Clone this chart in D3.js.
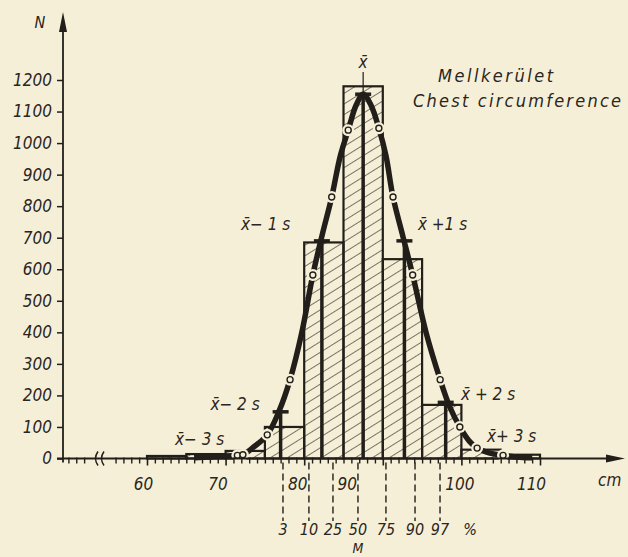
<!DOCTYPE html>
<html>
<head>
<meta charset="utf-8">
<script src="https://cdn.jsdelivr.net/npm/d3@7"></script>
<style>
  body { margin: 0; background: #f6efd8; }
  svg text { font-family: "DejaVu Sans Condensed", "DejaVu Sans", sans-serif; font-style: italic; fill: #2a2520; }
</style>
</head>
<body>
<svg id="chart" width="628" height="557"></svg>
<script>
// histogram classes (cm) and counts
const binStart = [60, 65, 70, 75, 80, 85, 90, 95, 100, 105];
const binEnd   = [65, 70, 75, 80, 85, 90, 95, 100, 105, 110];
const counts   = [8, 14, 24, 100, 685, 1180, 632, 170, 28, 12];

// fitted normal curve
const curveCm = [66, 68, 70, 71.5, 72.2, 73.5, 75.3, 76.8, 78.2, 79.7, 81.1, 82.3, 83.5, 84.6, 85.6, 86.6, 87.5,
                 88.5, 89.5, 90.4, 91.3, 92.5, 93.8, 95.5, 97.3, 98.5, 99.8, 101, 102, 103.5, 105.3, 107, 109];
const curveN  = [2, 5, 8, 10, 12, 35, 75, 150, 250, 400, 582, 710, 829, 960, 1041, 1120, 1155,
                 1120, 1047, 960, 829, 710, 582, 400, 250, 165, 100, 55, 33, 18, 10, 5, 2];

// small open circles on the curve
const ringCm = [71.5, 72.2, 75.3, 78.2, 81.1, 83.5, 85.6, 89.5, 91.3, 93.8, 97.3, 99.8, 102, 105.3];
const ringN  = [10, 12, 75, 250, 582, 829, 1041, 1047, 829, 582, 250, 100, 33, 10];

// mean and +-1s, +-2s markers
const sigmaCm = [77.0, 82.25, 87.5, 92.75, 98.0];
const sigmaN  = [148, 690, 1155, 690, 178];

// percentiles
const pctLabels = ["3", "10", "25", "50", "75", "90", "97"];
const pctCm     = [77.3, 80.6, 83.66, 86.84, 90.4, 94.1, 97.28];

const yTicks = [0, 100, 200, 300, 400, 500, 600, 700, 800, 900, 1000, 1100, 1200];
const xTicks = [60, 70, 80, 90, 100, 110];
const xMinor = [50, 51, 52, 56, 57, 58, 59, 61, 62, 63, 64, 65, 66, 67, 68, 69, 71, 72, 73, 74, 75, 76, 77, 78, 79,
                81, 82, 83, 84, 85, 86, 87, 88, 89, 91, 92, 93, 94, 95, 96, 97, 98, 99,
                101, 102, 103, 104, 105, 106, 107, 108, 109];

const ink = "#221e1a";
const bg = "#f6efd8";
const svg = d3.select("#chart");

const x = d3.scaleLinear().domain([60, 110]).range([147, 540]);
const y = d3.scaleLinear().domain([0, 1200]).range([458.5, 80]);
const x0 = 63, base = y(0);

svg.append("rect").attr("width", 628).attr("height", 557).attr("fill", bg);

// hatching
const pat = svg.append("defs").append("pattern")
  .attr("id", "hatch")
  .attr("patternUnits", "userSpaceOnUse")
  .attr("width", 9).attr("height", 9)
  .attr("patternTransform", "rotate(58)");
pat.append("line")
  .attr("x1", 0).attr("y1", 0).attr("x2", 0).attr("y2", 9)
  .attr("stroke", ink).attr("stroke-width", 1.2);

// bars
svg.append("g").selectAll("rect")
  .data(counts)
  .join("rect")
  .attr("x", (d, i) => x(binStart[i]))
  .attr("width", (d, i) => x(binEnd[i]) - x(binStart[i]))
  .attr("y", d => y(d))
  .attr("height", d => base - y(d))
  .attr("fill", "url(#hatch)")
  .attr("stroke", ink)
  .attr("stroke-width", 2.2);

// mean / sigma verticals
svg.append("g").selectAll("line")
  .data(sigmaCm)
  .join("line")
  .attr("x1", d => x(d)).attr("x2", d => x(d))
  .attr("y1", (d, i) => y(sigmaN[i])).attr("y2", base)
  .attr("stroke", ink).attr("stroke-width", 3.5);

// thin line up to the x-bar label
svg.append("line")
  .attr("x1", x(sigmaCm[2])).attr("x2", x(sigmaCm[2]))
  .attr("y1", 72).attr("y2", y(sigmaN[2]))
  .attr("stroke", ink).attr("stroke-width", 1.2);

// curve
const line = d3.line()
  .x((d, i) => x(curveCm[i]))
  .y(d => y(d))
  .curve(d3.curveCatmullRom);
svg.append("path")
  .datum(curveN)
  .attr("d", line)
  .attr("fill", "none")
  .attr("stroke", ink)
  .attr("stroke-width", 5.5);

// rings with gaps in the curve
const rings = svg.append("g");
rings.selectAll("circle.halo")
  .data(ringN)
  .join("circle")
  .attr("class", "halo")
  .attr("cx", (d, i) => x(ringCm[i])).attr("cy", d => y(d))
  .attr("r", 6).attr("fill", bg);
rings.selectAll("circle.ring")
  .data(ringN)
  .join("circle")
  .attr("class", "ring")
  .attr("cx", (d, i) => x(ringCm[i])).attr("cy", d => y(d))
  .attr("r", 3).attr("fill", bg)
  .attr("stroke", ink).attr("stroke-width", 1.4);

// T caps
svg.append("g").selectAll("line")
  .data(sigmaCm)
  .join("line")
  .attr("x1", d => x(d) - 8).attr("x2", d => x(d) + 8)
  .attr("y1", (d, i) => y(sigmaN[i])).attr("y2", (d, i) => y(sigmaN[i]))
  .attr("stroke", ink).attr("stroke-width", 3.5);

// percentile dashed lines
svg.append("g").selectAll("line")
  .data(pctCm)
  .join("line")
  .attr("x1", d => x(d)).attr("x2", d => x(d))
  .attr("y1", base + 4).attr("y2", 521)
  .attr("stroke", ink).attr("stroke-width", 1.4)
  .attr("stroke-dasharray", "7,4");

svg.append("g").selectAll("text")
  .data(pctLabels)
  .join("text")
  .attr("x", (d, i) => x(pctCm[i]))
  .attr("y", 535)
  .attr("text-anchor", "middle")
  .attr("font-size", 16)
  .text(d => d);
svg.append("text").attr("x", x(pctCm[6]) + 30).attr("y", 535)
  .attr("text-anchor", "middle").attr("font-size", 16).text("%");
svg.append("text").attr("x", x(pctCm[3])).attr("y", 553)
  .attr("text-anchor", "middle").attr("font-size", 14).text("M");

// y axis
const yAxis = svg.append("g")
  .attr("transform", `translate(${x0},0)`)
  .call(d3.axisLeft(y).tickValues(yTicks).tickSize(6).tickPadding(5).tickFormat(d3.format("d")));
yAxis.select(".domain").remove();
yAxis.selectAll(".tick line").attr("stroke", ink).attr("stroke-width", 1.5);
yAxis.selectAll(".tick text")
  .attr("font-size", 17).attr("font-family", null).attr("fill", null);

svg.append("line")
  .attr("x1", x0).attr("x2", x0).attr("y1", base + 4).attr("y2", 28)
  .attr("stroke", ink).attr("stroke-width", 1.8);
svg.append("path")
  .attr("d", `M${x0},12 L${x0 - 4},32 L${x0 + 4},32 Z`)
  .attr("fill", ink);
svg.append("text").attr("x", 40).attr("y", 28).attr("text-anchor", "middle")
  .attr("font-size", 16).text("N");

// x axis
svg.append("line")
  .attr("x1", 57).attr("x2", 612).attr("y1", base).attr("y2", base)
  .attr("stroke", ink).attr("stroke-width", 1.8);
svg.append("path")
  .attr("d", `M625,${base} L606,${base - 4} L606,${base + 4} Z`)
  .attr("fill", ink);
svg.append("path")
  .attr("d", `M98,${base - 7} Q93,${base} 98,${base + 7} M104,${base - 7} Q99,${base} 104,${base + 7}`)
  .attr("fill", "none").attr("stroke", ink).attr("stroke-width", 1.5);

const xMinorAxis = svg.append("g")
  .attr("transform", `translate(0,${base - 1})`)
  .call(d3.axisBottom(x).tickValues(xMinor).tickSize(6).tickFormat(""));
xMinorAxis.select(".domain").remove();
xMinorAxis.selectAll(".tick line").attr("stroke", ink).attr("stroke-width", 1.4);

// major ticks; labels nudged like the printed ones
const nudge = { 60: -4, 70: -8, 80: -7, 90: -36, 100: -2, 110: -9 };
const xAxis = svg.append("g")
  .attr("transform", `translate(0,${base - 1})`)
  .call(d3.axisBottom(x).tickValues(xTicks).tickSize(8).tickPadding(12).tickFormat(d3.format("d")));
xAxis.select(".domain").remove();
xAxis.selectAll(".tick line").attr("stroke", ink).attr("stroke-width", 1.6);
xAxis.selectAll(".tick text")
  .attr("font-size", 17).attr("font-family", null).attr("fill", null)
  .attr("dx", d => nudge[d]);
svg.append("text").attr("x", 598).attr("y", 486).attr("font-size", 17).text("cm");

// annotations
const xbar = "x\u0304";
const notes = [
  { t: xbar, cm: 87.5, n: 1237 },
  { t: xbar + "\u2212 1 s", cm: 75.1, n: 724 },
  { t: xbar + " +1 s", cm: 97.6, n: 724 },
  { t: xbar + "\u2212 2 s", cm: 71.2, n: 154 },
  { t: xbar + " + 2 s", cm: 103.4, n: 185 },
  { t: xbar + "\u2212 3 s", cm: 66.7, n: 43 },
  { t: xbar + "+ 3 s", cm: 106.4, n: 52 }
];
svg.append("g").selectAll("text")
  .data(notes)
  .join("text")
  .attr("x", d => x(d.cm))
  .attr("y", d => y(d.n))
  .attr("text-anchor", "middle")
  .attr("font-size", 17)
  .text(d => d.t);

// title
svg.append("text").attr("x", 438).attr("y", 82).attr("font-size", 18)
  .attr("textLength", 115).attr("lengthAdjust", "spacing").text("Mellkerület");
svg.append("text").attr("x", 413).attr("y", 107).attr("font-size", 18)
  .attr("textLength", 208).attr("lengthAdjust", "spacing").text("Chest circumference");
</script>
</body>
</html>
